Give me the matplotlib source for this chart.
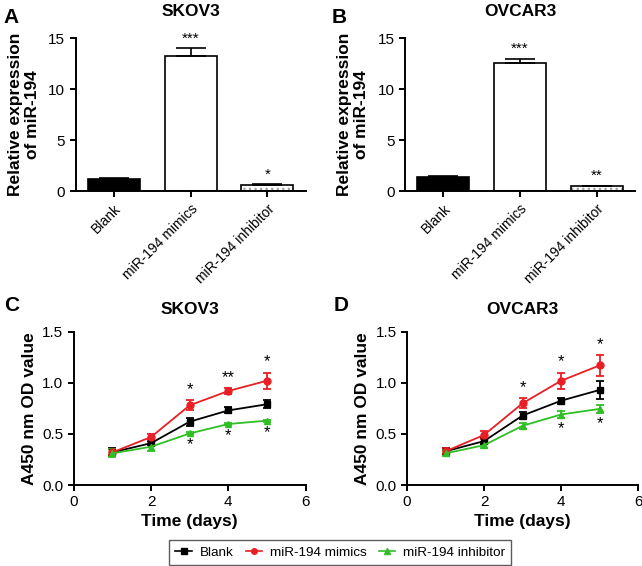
import matplotlib.pyplot as plt
import numpy as np
from matplotlib.lines import Line2D

plt.rcParams['font.family'] = ['Liberation Sans', 'DejaVu Sans']
plt.rcParams['hatch.linewidth'] = 1.0

# bar panels (A: SKOV3, B: OVCAR3)
groups = ['Blank', 'miR-194 mimics', 'miR-194 inhibitor']
skov3_expr = [1.2, 13.3, 0.6]
skov3_expr_err = [0.1, 0.7, 0.05]
skov3_expr_stars = ['', '***', '*']
ovcar3_expr = [1.35, 12.6, 0.45]
ovcar3_expr_err = [0.1, 0.35, 0.05]
ovcar3_expr_stars = ['', '***', '**']

# CCK-8 growth curves (C: SKOV3, D: OVCAR3)
days = [1, 2, 3, 4, 5]
series_names = ['Blank', 'miR-194 mimics', 'miR-194 inhibitor']

skov3_blank = [0.32, 0.41, 0.62, 0.73, 0.79]
skov3_blank_err = [0.04, 0.02, 0.04, 0.03, 0.04]
skov3_mimics = [0.32, 0.47, 0.78, 0.92, 1.02]
skov3_mimics_err = [0.03, 0.03, 0.05, 0.03, 0.08]
skov3_inhib = [0.31, 0.375, 0.505, 0.597, 0.63]
skov3_inhib_err = [0.04, 0.04, 0.01, 0.01, 0.01]
skov3_mimics_stars = ['', '', '*', '**', '*']
skov3_inhib_stars = ['', '', '*', '*', '*']

ovcar3_blank = [0.33, 0.43, 0.68, 0.825, 0.93]
ovcar3_blank_err = [0.03, 0.03, 0.03, 0.03, 0.09]
ovcar3_mimics = [0.33, 0.49, 0.80, 1.02, 1.17]
ovcar3_mimics_err = [0.03, 0.04, 0.05, 0.08, 0.10]
ovcar3_inhib = [0.31, 0.39, 0.58, 0.69, 0.745]
ovcar3_inhib_err = [0.03, 0.03, 0.03, 0.03, 0.04]
ovcar3_mimics_stars = ['', '', '*', '*', '*']
ovcar3_inhib_stars = ['', '', '', '*', '*']

colors = ['black', '#e81f24', '#2fbf24']
markers = ['s', 'o', '^']


def style_axes(ax):
    for side in ['top', 'right']:
        ax.spines[side].set_visible(False)
    for side in ['left', 'bottom']:
        ax.spines[side].set_linewidth(1.4)
    ax.tick_params(width=1.4, length=4, labelsize=11)


def bar_panel(ax, values, errs, stars, title):
    x = np.arange(len(groups))
    faces = ['black', 'white', 'white']
    for i in range(len(groups)):
        if i == 2:
            # light dotted fill, then black outline on top
            ax.bar(x[i], values[i], width=0.68, color='white', edgecolor='#a0a0a0',
                   linewidth=0, hatch='...', zorder=2)
            ax.bar(x[i], values[i], width=0.68, fill=False, edgecolor='black',
                   linewidth=1.2, zorder=2)
        else:
            ax.bar(x[i], values[i], width=0.68, color=faces[i], edgecolor='black',
                   linewidth=1.2, zorder=2)
        ax.errorbar(x[i], values[i], yerr=[[0], [errs[i]]], fmt='none',
                    ecolor='black', elinewidth=1.2, capsize=11, capthick=1.2, zorder=3)
        if stars[i]:
            ax.text(x[i], values[i] + errs[i] + 0.3, stars[i], ha='center',
                    va='bottom', fontsize=11)
    ax.set_xlim(-0.5, 2.5)
    ax.set_ylim(0, 15)
    ax.set_yticks([0, 5, 10, 15])
    ax.set_xticks(x)
    style_axes(ax)
    ax.set_xticklabels(groups, rotation=45, ha='right', rotation_mode='anchor', fontsize=10)
    ax.set_ylabel('Relative expression\nof miR-194', fontsize=12.5, fontweight='bold',
                  labelpad=6)
    ax.set_title(title, fontsize=12.5, fontweight='bold', pad=16)


def curve_panel(ax, data, errs, up_stars, down_stars, title):
    for k in range(3):
        ax.errorbar(days, data[k], yerr=errs[k], color=colors[k], marker=markers[k],
                    markersize=5, linewidth=1.3, elinewidth=1.3, capsize=3,
                    capthick=1.3)
    for i in range(len(days)):
        if up_stars[i]:
            ax.text(days[i], data[1][i] + errs[1][i] + 0.03, up_stars[i],
                    ha='center', va='bottom', fontsize=12)
        if down_stars[i]:
            ax.text(days[i], data[2][i] - errs[2][i] - 0.03, down_stars[i],
                    ha='center', va='top', fontsize=12)
    ax.set_xlim(0, 6)
    ax.set_ylim(0, 1.5)
    ax.set_xticks([0, 2, 4, 6])
    ax.set_yticks([0, 0.5, 1.0, 1.5])
    ax.set_yticklabels(['0.0', '0.5', '1.0', '1.5'])
    style_axes(ax)
    ax.set_xlabel('Time (days)', fontsize=12.5, fontweight='bold', labelpad=3)
    ax.set_ylabel('A450 nm OD value', fontsize=12.5, fontweight='bold')
    ax.set_title(title, fontsize=12.5, fontweight='bold', pad=13)


fig = plt.figure(figsize=(6.42, 5.66), dpi=100)
ax_a = fig.add_axes([0.118, 0.6625, 0.358, 0.27])
ax_b = fig.add_axes([0.631, 0.6625, 0.358, 0.27])
ax_c = fig.add_axes([0.115, 0.143, 0.361, 0.271])
ax_d = fig.add_axes([0.634, 0.143, 0.360, 0.271])

bar_panel(ax_a, skov3_expr, skov3_expr_err, skov3_expr_stars, 'SKOV3')
bar_panel(ax_b, ovcar3_expr, ovcar3_expr_err, ovcar3_expr_stars, 'OVCAR3')

curve_panel(ax_c, [skov3_blank, skov3_mimics, skov3_inhib],
            [skov3_blank_err, skov3_mimics_err, skov3_inhib_err],
            skov3_mimics_stars, skov3_inhib_stars, 'SKOV3')
curve_panel(ax_d, [ovcar3_blank, ovcar3_mimics, ovcar3_inhib],
            [ovcar3_blank_err, ovcar3_mimics_err, ovcar3_inhib_err],
            ovcar3_mimics_stars, ovcar3_inhib_stars, 'OVCAR3')

# panel letters
for letter, xpos, ypos in [('A', 0.006, 0.985), ('B', 0.517, 0.985),
                           ('C', 0.006, 0.477), ('D', 0.52, 0.477)]:
    fig.text(xpos, ypos, letter, fontsize=15, fontweight='bold', va='top')

handles = [Line2D([], [], color=colors[k], marker=markers[k], markersize=4, linewidth=1.2)
           for k in range(3)]
leg = fig.legend(handles, series_names, loc='center', bbox_to_anchor=(0.53, 0.024), ncol=3,
                 fontsize=9.7, frameon=True, fancybox=False, handlelength=1.2,
                 columnspacing=0.9, handletextpad=0.6, borderpad=0.45)
leg.get_frame().set_edgecolor('#333333')
leg.get_frame().set_linewidth(1.0)

fig.savefig('out.png', dpi=100)
